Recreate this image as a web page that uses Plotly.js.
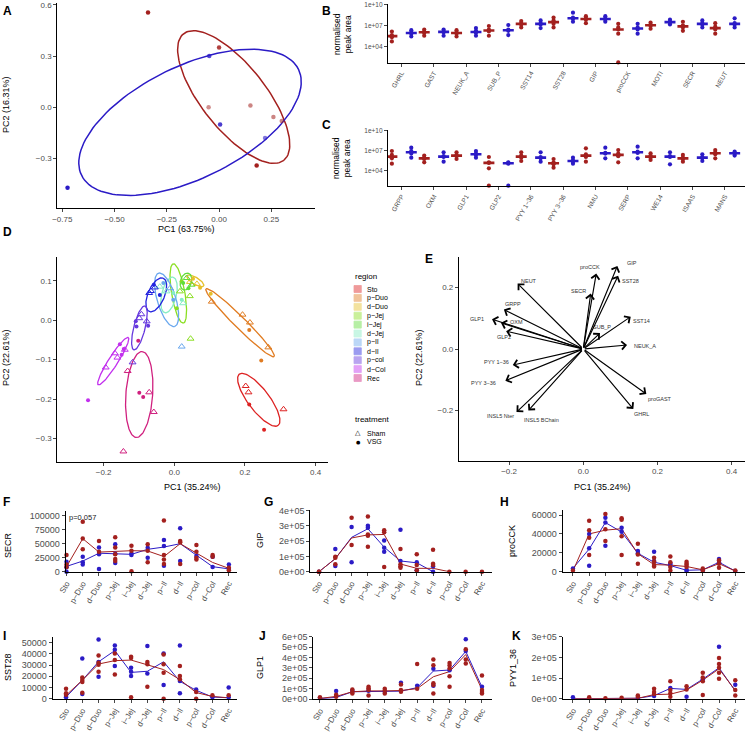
<!DOCTYPE html>
<html><head><meta charset="utf-8">
<script src="https://cdn.plot.ly/plotly-3.0.1.min.js"></script>
<style>html,body{margin:0;padding:0;background:#fff}#chart{width:745px;height:734px}</style>
</head><body><div id="chart"></div>
<script>
// ================= DATA =================
// Panel A (PCA, treatment)
const aPC1 = [-0.34, 0.0, -0.047, -0.05, 0.15, 0.005, 0.18, -0.725, 0.26, 0.30, 0.22];
const aPC2 = [0.555, 0.35, 0.30, 0.0, 0.01, -0.10, -0.34, -0.47, -0.057, -0.08, -0.18];
const aTreat = ['Sham','Sham','VSG','Sham','Sham','VSG','Sham','VSG','Sham','Sham','VSG'];
const aAlpha = [1, 0.85, 0.8, 0.5, 0.55, 0.85, 1, 1, 0.55, 0.55, 0.6];
const aEllTreat = ['Sham','VSG'];
const aEllCx = [0.07, -0.139], aEllCy = [0.06, -0.088];
const aEllUx = [0.24, 0.519], aEllUy = [-0.37, 0.31];
const aEllVx = [0.12, 0.118], aEllVy = [0.117, -0.295];

// Panel B / C (normalised peak area)
const bGenes = ['GHRL','GAST','NEUK_A','SUB_P','SST14','SST28','GIP','proCCK','MOTI','SECR','NEUT'];
const bSham = [[5.0e4,2.0e5,4.0e5,1.3e6],[3.2e5,7.9e5,1.3e6,2.5e6],[2.5e5,6.3e5,1.0e6,2.0e6],[3.2e5,1.3e6,2.5e6,7.9e6],[5.0e6,1.3e7,2.0e7,4.0e7],[5.0e6,1.6e7,5.0e7,1.3e8],[2.0e7,6.3e7,1.0e8,2.0e8],[50,6.3e5,2.5e6,5.0e6,1.6e7],[3.2e6,7.9e6,1.3e7,2.5e7],[1.6e6,5.0e6,1.0e7,3.2e7],[6.3e5,2.5e6,6.3e6,2.0e7]];
const bVsg = [[2.5e5,6.3e5,1.0e6,2.0e6],[3.2e5,1.0e6,1.3e6,2.5e6],[3.2e5,7.9e5,1.6e6,4.0e6],[4.0e5,1.6e6,2.5e6,1.1e7],[4.0e6,1.3e7,2.0e7,5.0e7],[3.2e7,7.9e7,1.3e8,6.3e8],[3.2e7,6.3e7,1.0e8,2.0e8],[6.3e5,2.5e6,5.0e6,1.6e7],[1.3e7,2.5e7,3.2e7,6.3e7],[5.0e6,1.3e7,2.0e7,5.0e7],[5.0e6,1.3e7,2.0e7,1.0e8]];
const cGenes = ['GRPP','OXM','GLP1','GLP2','PYY 1\u221236','PYY 3\u221236','NMU','SERP','WE14','ISAAS','MANS'];
const cSham = [[1.0e5,6.3e5,2.0e6,7.9e6],[1.6e5,5.0e5,7.9e5,1.6e6],[5.0e5,1.3e6,2.0e6,5.0e6],[50,2.0e4,1.3e5,1.6e5,1.0e6],[2.5e5,7.9e5,1.6e6,5.0e6],[2.5e4,7.9e4,1.6e5,5.0e5],[2.0e5,1.0e6,2.5e6,2.0e7],[1.6e5,1.3e6,3.2e6,1.1e7],[3.5e5,7.9e5,1.6e6,3.5e6],[2.0e5,5.0e5,7.9e5,2.0e6],[6.3e5,2.5e6,5.0e6,1.1e7]];
const cVsg = [[7.9e5,3.2e6,7.9e6,2.5e7],[2.0e5,1.0e6,1.3e6,5.0e6],[7.9e5,2.0e6,3.2e6,7.9e6],[50,1.0e5,1.3e5,1.6e5],[2.0e5,6.3e5,1.0e6,5.0e6],[1.0e5,2.0e5,3.2e5,7.9e5],[6.3e5,3.2e6,4.0e6,2.5e7],[6.3e5,4.0e6,6.3e6,3.5e7],[7.9e4,1.0e6,1.3e6,5.0e6],[2.5e5,6.3e5,1.0e6,2.5e6],[1.6e6,3.2e6,4.0e6,6.3e6]];

// Panel D (PCA by region)
const regions = ['Sto','p\u2212Duo','d\u2212Duo','p\u2212Jej','i\u2212Jej','d\u2212Jej','p\u2212Il','d\u2212Il','p\u2212col','d\u2212Col','Rec'];
const regionColors = ['#DD2222','#E07C22','#E6C02A','#8BDF22','#5FDD3A','#86EDC4','#6AA8EE','#2424DF','#6638DE','#C230EE','#D0207F'];
const dReg = [0,0,0,0,0, 1,1,1,1,1,1, 2,2,2,2,2, 3,3,3,3,3, 4,4,4,4, 5,5,5,5,5, 6,6,6,6, 7,7,7,7,7, 8,8,8,8,8,8,8, 9,9,9,9,9,9,9,9, 10,10,10,10,10,10,10];
const dTreat = ['S','S','S','V','V', 'S','S','S','S','V','V', 'V','S','S','V','V', 'S','S','S','V','V', 'S','S','V','V', 'S','S','V','V','S', 'S','S','V','V', 'S','S','V','S','V', 'S','S','S','V','V','V','S', 'S','S','S','S','V','V','V','V', 'S','S','S','S','V','V','V'];
const dPC1 = [0.202,0.210,0.309,0.212,0.254, 0.106,0.193,0.214,0.266,0.212,0.246, 0.103,0.044,0.064,0.053,0.073, 0.044,0.046,0.016,0.021,0.007, 0.035,0.049,0.040,0.025, -0.041,-0.022,-0.003,0.021,0.025, 0.021,-0.012,-0.003,-0.031, -0.071,-0.055,-0.058,-0.066,-0.041, -0.093,-0.078,-0.099,-0.107,-0.074,-0.109,-0.118, -0.194,-0.161,-0.140,-0.168,-0.154,-0.149,-0.143,-0.244, -0.132,-0.071,-0.058,-0.144,-0.099,-0.088,-0.102];
const dPC2 = [-0.167,-0.183,-0.226,-0.214,-0.278, 0.047,0.014,-0.006,-0.069,-0.025,-0.102, 0.067,0.097,0.092,0.105,0.082, 0.061,-0.047,0.073,0.098,0.030, 0.107,0.090,0.081,0.094, 0.085,0.073,0.069,0.052,0.043, -0.067,0.081,0.052,0.094, 0.069,0.083,0.090,0.074,0.064, 0.015,-0.003,0.005,-0.016,-0.014,-0.003,-0.107, -0.120,-0.095,-0.075,-0.084,-0.061,-0.088,-0.073,-0.203, -0.129,-0.183,-0.233,-0.333,-0.184,-0.195,-0.052];
const dEllCx = [0.239,0.186,0.0595,0.0113,0.033,-0.015,-0.0217,-0.051,-0.0987,-0.1728,-0.0992];
const dEllCy = [-0.202,-0.0063,0.0998,0.0677,0.098,0.064,0.0516,0.0643,-0.0195,-0.104,-0.1887];
const dEllUx = [0.0548,0.0963,0.0236,0.0142,0.0066,0.012,0.0227,0.0198,0.0156,0.0425,0.0085];
const dEllUy = [-0.0651,-0.0859,-0.0127,-0.0753,0.0212,0.045,-0.0677,0.0423,0.0558,0.0601,0.109];
const dEllVx = [0.0242,0.0113,-0.005,0.0186,0.0151,0.02,0.0253,0.0217,0.0156,0.0112,0.0378];
const dEllVy = [0.0162,0.0102,-0.0074,0.0028,-0.0038,-0.005,0.0068,-0.0082,-0.0035,-0.0063,-0.0025];

// Panel E (loadings)
const eLabels = ['NEUT','GRPP','GLP1','OXM','GLP2','PYY 1\u221236','PYY 3\u221236','INSL5 Nter','INSL5 BChain','GHRL','proGAST','NEUK_A','SST14','SUB_P','SECR','proCCK','GIP','SST28'];
const eTipX = [-0.177,-0.214,-0.246,-0.222,-0.208,-0.19,-0.21,-0.18,-0.148,0.135,0.17,0.118,0.128,0.045,0.02,0.035,0.092,0.094];
const eTipY = [0.213,0.128,0.097,0.085,0.058,-0.052,-0.103,-0.205,-0.2,-0.195,-0.146,0.013,0.105,0.052,0.18,0.245,0.27,0.238];
const eLabX = [-0.145,-0.19,-0.287,-0.18,-0.215,-0.235,-0.268,-0.222,-0.112,0.156,0.207,0.167,0.157,0.05,-0.012,0.018,0.131,0.126];
const eLabY = [0.222,0.145,0.097,0.087,0.038,-0.042,-0.112,-0.219,-0.232,-0.212,-0.162,0.01,0.09,0.07,0.188,0.266,0.278,0.221];

// Panels F-K (per region)
const secrSham = [[29800,8300,13000],[89000,59500,40000],[54700,35700],[61300,43400,31000,22600,19000],[46400,37500,600],[48800,37500,16700],[91600,29800,22000,13700],[54700,52400,13700],[47600,35700,25000,22000],[29800,26800],[7000,2400]];
const secrVsg = [[17900,0,8000],[26800,16700,13000],[43400,31000,4800],[48800,15500,32000],[32700,29800],[42800,25000],[56500,45800,10700],[77400,19000],[28000],[26800,8300],[13000,4800]];
const secrShamLine = [9000,59000,35000,36000,37500,37000,27000,50000,33000,16500,6000];
const secrVsgLine = [9500,19000,33000,32500,31000,40000,44000,50000,30000,9000,5000];

const gipSham = [[0,0],[98000,91000,48000],[352000,174000],[360000,243000,235000,163000],[270000,257000,30000],[148000,48000,35000,26000],[113000,43000,9000],[143000,52000,43000],[0],[0],[0]];
const gipVsg = [[0],[148000,37000],[291000,61000],[300000,287000],[204000,157000,130000],[274000,70000],[61000,9000],[35000,0],[],[],[]];
const gipShamLine = [0,85000,220000,240000,243000,50000,22000,22000,0,null,null];
const gipVsgLine = [0,85000,224000,280000,160000,70000,58000,0,null,null,null];

const cckSham = [[1400],[54000,44000,36000,17600],[61000,45000,32500],[56500,55000,37400,17600],[29600,18300,8500],[14800,10600,7000,5600],[16200,9900,4900,1400],[10600,8500,7000,4900],[3500,1400],[12000,8500,4200],[1400]];
const cckVsg = [[3500],[40000,24700,6400],[57000,52000,27500],[46600,42400],[21900,19400],[21200,11300],[8800,7000],[700,2100],[1400],[13400,9900],[700]];
const cckShamLine = [700,40000,44000,45500,19000,7500,7000,5500,2000,8500,700];
const cckVsgLine = [3500,24000,52000,42000,19500,10000,6500,1500,2000,10000,700];

const sst28Sham = [[8900,4800,3600],[19000,16700,14900,5400],[38700,32100,30400,24100],[40500,34500,21700],[37500,36300,1200],[32700,30700,10700],[39600,30700,23200,0],[29200,20200,17300],[6000,0],[3000],[3000]];
const sst28Vsg = [[2400,1200],[36000,4200],[53000,32700,19600],[47600,43700,29200],[27700,24100,20200],[47000,22600],[40500,12200],[47600,15800,4800],[8300],[1200],[10100,1200]];
const sst28ShamLine = [3000,16500,31000,34000,34500,30000,26000,17000,5500,2000,800];
const sst28VsgLine = [1500,16500,33000,43000,23500,24500,33000,15500,7500,1500,800];

const glp1Sham = [[16000],[42000,22000],[93000,67000,54000],[119000,103000,87000,35000],[99000,80000,54000],[141000,87000,70000],[337000,99000],[381000,327000,151000,135000,54000],[349000,324000,295000,221000,119000],[480000,381000,343000],[228000,87000,67000,54000]];
const glp1Vsg = [[10000],[77000,29000],[80000],[80000],[70000],[157000],[128000],[292000,128000],[279000],[577000,465000],[119000]];
const glp1ShamLine = [5000,25000,70000,78000,78000,82000,100000,215000,265000,430000,90000];
const glp1VsgLine = [5000,15000,70000,72000,72000,76000,110000,270000,280000,460000,115000];

const pyySham = [[],[6500],[2000],[5000],[16000,10000],[48000,32000,23000],[85000,42000,26000,10000],[61000,45000],[126000,103000,85000,18000],[197000,168000,150000,126000,97000],[90000,42000,16000]];
const pyyVsg = [[6500],[],[],[],[3000],[13000],[52000],[10000],[94000],[252000],[68000]];
const pyyShamLine = [0,0,0,0,2000,20000,22000,42000,90000,145000,40000];
const pyyVsgLine = [0,0,0,0,2000,15000,50000,45000,95000,150000,38000];

// ================= DRAWING =================
const W = 745, H = 734;
const FONT = '"Liberation Sans", Arial, Helvetica, sans-serif';
const RED = '#A3201E', BLUE = '#2B1BC6', TICKC = '#4D4D4D';
const treatColor = {Sham: RED, VSG: BLUE};
const px = x => x / W, py = y => 1 - y / H;
const traces = [], annotations = [], shapes = [];
const layout = {width: W, height: H, margin: {l:0, r:0, t:0, b:0, pad:0}, showlegend: false,
  paper_bgcolor: '#ffffff', plot_bgcolor: 'rgba(0,0,0,0)', font: {family: FONT, color: '#000'},
  annotations, shapes};

function addAxes(n, x0, x1, ytop, ybot, xr, yr, xopt, yopt) {
  const sfx = n === 1 ? '' : String(n);
  const base = {showline: true, linecolor: '#000', linewidth: 1.1, ticks: 'outside', ticklen: 3,
    tickwidth: 0.9, tickcolor: '#333', showgrid: false, zeroline: false, fixedrange: true,
    tickfont: {family: FONT, size: 8, color: TICKC}};
  layout['xaxis' + sfx] = Object.assign({}, base, {domain: [px(x0), px(x1)], range: xr, anchor: 'y' + sfx}, xopt || {});
  layout['yaxis' + sfx] = Object.assign({}, base, {domain: [py(ybot), py(ytop)], range: yr, anchor: 'x' + sfx}, yopt || {});
  return {xa: 'x' + sfx, ya: 'y' + sfx};
}
function txt(x, y, text, opt) {
  annotations.push(Object.assign({xref: 'paper', yref: 'paper', x: px(x), y: py(y), text: text, showarrow: false,
    xanchor: 'center', yanchor: 'middle', font: {family: FONT, size: 9, color: '#000'}}, opt || {}));
}
function letter(x, y, L) { txt(x, y, '<b>' + L + '</b>', {xanchor: 'left', font: {family: FONT, size: 12, color: '#000'}}); }
function ytitle(x, y, t, size) { txt(x, y, t, {textangle: -90, font: {family: FONT, size: size || 9, color: '#000'}}); }
function ellipse(cx, cy, ux, uy, vx, vy) {
  const xs = [], ys = [];
  for (let k = 0; k <= 120; k++) { const t = 2 * Math.PI * k / 120;
    xs.push(cx + ux * Math.cos(t) + vx * Math.sin(t)); ys.push(cy + uy * Math.cos(t) + vy * Math.sin(t)); }
  return {xs, ys};
}
const idx11 = [0,1,2,3,4,5,6,7,8,9,10];

// ---- Panel A ----
const A = addAxes(1, 57.3, 315, 3, 208, [-0.774, 0.459], [-0.589, 0.61],
  {tickvals: [-0.75, -0.5, -0.25, 0, 0.25], tickformat: '.2f'}, {tickvals: [-0.3, 0, 0.3, 0.6], tickformat: '.1f'});
aEllTreat.forEach((t, i) => {
  const e = ellipse(aEllCx[i], aEllCy[i], aEllUx[i], aEllUy[i], aEllVx[i], aEllVy[i]);
  traces.push({type: 'scatter', mode: 'lines', x: e.xs, y: e.ys, xaxis: A.xa, yaxis: A.ya, line: {color: treatColor[t], width: 1.5}, hoverinfo: 'skip'});
});
traces.push({type: 'scatter', mode: 'markers', x: aPC1, y: aPC2, xaxis: A.xa, yaxis: A.ya, cliponaxis: false,
  marker: {size: 4.5, color: aTreat.map(t => treatColor[t]), opacity: aAlpha}});
letter(1, 11, 'A');
txt(186, 229, 'PC1 (63.75%)');
ytitle(6, 105, 'PC2 (16.31%)');

// ---- Panels B & C ----
function medianLog(vals) { const l = vals.map(v => Math.log10(v)).sort((a, b) => a - b); const m = l.length;
  return Math.pow(10, m % 2 ? l[(m - 1) / 2] : (l[m / 2 - 1] + l[m / 2]) / 2); }
function dotCross(ax, groups, off, color) {
  const xs = [], ys = [], lx = [], ly = [];
  groups.forEach((vals, i) => {
    vals.forEach(v => { xs.push(i + off); ys.push(v); });
    const m = medianLog(vals);
    lx.push(i + off - 0.17, i + off + 0.17, null); ly.push(m, m, null);
  });
  traces.push({type: 'scatter', mode: 'lines', x: lx, y: ly, xaxis: ax.xa, yaxis: ax.ya, line: {color: color, width: 2.6}, hoverinfo: 'skip'});
  traces.push({type: 'scatter', mode: 'markers', x: xs, y: ys, xaxis: ax.xa, yaxis: ax.ya, cliponaxis: false, marker: {size: 4.2, color: color}});
}
const geneTick = labels => ({tickvals: idx11, ticktext: labels, tickangle: -60, tickfont: {family: FONT, size: 6.5, color: TICKC}});
const logY = {type: 'log', tickvals: [1e4, 1e7, 1e10], ticktext: ['1e+04', '1e+07', '1e+10'], tickfont: {family: FONT, size: 6.5, color: TICKC}};
const B = addAxes(2, 388, 745, 4, 62.7, [-0.42, 10.62], [1.66, 10.04], geneTick(bGenes), logY);
dotCross(B, bSham, -0.3, RED); dotCross(B, bVsg, 0.3, BLUE);
const C = addAxes(3, 388, 745, 130.3, 186, [-0.42, 10.62], [1.65, 10.0], geneTick(cGenes), logY);
dotCross(C, cSham, -0.3, RED); dotCross(C, cVsg, 0.3, BLUE);
letter(320, 11, 'B'); letter(320, 125, 'C');
ytitle(342, 34, 'normalised<br>peak area', 8.5);
ytitle(342, 158, 'normalised<br>peak area', 8.5);

// ---- Panel D ----
const D = addAxes(4, 57.3, 327.7, 256.7, 461.7, [-0.331, 0.434], [-0.359, 0.161],
  {tickvals: [-0.2, 0, 0.2, 0.4], tickformat: '.1f'}, {tickvals: [-0.3, -0.2, -0.1, 0, 0.1], tickformat: '.1f'});
regions.forEach((r, ri) => {
  const e = ellipse(dEllCx[ri], dEllCy[ri], dEllUx[ri], dEllUy[ri], dEllVx[ri], dEllVy[ri]);
  traces.push({type: 'scatter', mode: 'lines', x: e.xs, y: e.ys, xaxis: D.xa, yaxis: D.ya, line: {color: regionColors[ri], width: 1.3}, hoverinfo: 'skip'});
});
regions.forEach((r, ri) => {
  const sx = [], sy = [], vx = [], vy = [];
  dReg.forEach((g, k) => { if (g !== ri) return; if (dTreat[k] === 'S') { sx.push(dPC1[k]); sy.push(dPC2[k]); } else { vx.push(dPC1[k]); vy.push(dPC2[k]); } });
  traces.push({type: 'scatter', mode: 'markers', x: sx, y: sy, xaxis: D.xa, yaxis: D.ya, marker: {symbol: 'triangle-up-open', size: 6, color: regionColors[ri], line: {width: 1, color: regionColors[ri]}}});
  traces.push({type: 'scatter', mode: 'markers', x: vx, y: vy, xaxis: D.xa, yaxis: D.ya, marker: {symbol: 'circle', size: 4, color: regionColors[ri]}});
});
letter(1, 232, 'D');
txt(192, 487, 'PC1 (35.24%)');
ytitle(6, 358, 'PC2 (22.61%)');
// legend (drawn manually)
txt(353, 276.5, 'region', {xanchor: 'left', font: {family: FONT, size: 8, color: '#000'}});
regions.forEach((r, ri) => {
  const yc = 289 + 8.9 * ri;
  shapes.push({type: 'rect', xref: 'paper', yref: 'paper', x0: px(354), x1: px(361.3), y0: py(yc + 3.5), y1: py(yc - 3.5),
    line: {color: regionColors[ri], width: 0.8}, fillcolor: regionColors[ri], opacity: 0.45});
  txt(365, yc, r, {xanchor: 'left', font: {family: FONT, size: 7, color: '#000'}});
});
txt(353, 419.5, 'treatment', {xanchor: 'left', font: {family: FONT, size: 8, color: '#000'}});
txt(358, 433.3, '\u25B3', {font: {family: 'DejaVu Sans', size: 7, color: '#000'}});
txt(358, 441.7, '\u25CF', {font: {family: 'DejaVu Sans', size: 5, color: '#000'}});
txt(365, 433.3, 'Sham', {xanchor: 'left', font: {family: FONT, size: 7, color: '#000'}});
txt(365, 441.7, 'VSG', {xanchor: 'left', font: {family: FONT, size: 7, color: '#000'}});

// ---- Panel E ----
const E = addAxes(5, 459, 745, 256.7, 460.7, [-0.335, 0.436], [-0.363, 0.30],
  {tickvals: [-0.2, 0, 0.2, 0.4], tickformat: '.1f'}, {tickvals: [-0.2, 0, 0.2], tickformat: '.1f'});
traces.push({type: 'scatter', mode: 'markers', x: [0], y: [0], xaxis: E.xa, yaxis: E.ya, marker: {size: 1, color: 'rgba(0,0,0,0)'}, hoverinfo: 'skip'});
eLabels.forEach((lab, i) => {
  annotations.push({xref: E.xa, yref: E.ya, axref: E.xa, ayref: E.ya, x: eTipX[i], y: eTipY[i], ax: 0, ay: 0,
    text: '', showarrow: true, arrowhead: 4, arrowsize: 1.4, arrowwidth: 1.15, arrowcolor: '#000', standoff: 0, startstandoff: 0});
  annotations.push({xref: E.xa, yref: E.ya, x: eLabX[i], y: eLabY[i], text: lab, showarrow: false,
    xanchor: 'center', yanchor: 'middle', font: {family: FONT, size: 5.5, color: '#333'}});
});
letter(423, 259, 'E');
txt(602, 487, 'PC1 (35.24%)');
ytitle(419, 358, 'PC2 (22.61%)');

// ---- Panels F-K ----
const catX = {tickvals: idx11, ticktext: regions, tickangle: -60, tickfont: {family: FONT, size: 8, color: TICKC}};
const yTf = (vals, labels) => ({tickvals: vals, ticktext: labels, tickfont: {family: FONT, size: 9, color: TICKC}});
function linePanel(ax, shamPts, vsgPts, shamLine, vsgLine) {
  traces.push({type: 'scatter', mode: 'lines', x: idx11, y: vsgLine, xaxis: ax.xa, yaxis: ax.ya, line: {color: BLUE, width: 1}, connectgaps: false, cliponaxis: false, hoverinfo: 'skip'});
  traces.push({type: 'scatter', mode: 'lines', x: idx11, y: shamLine, xaxis: ax.xa, yaxis: ax.ya, line: {color: RED, width: 1}, connectgaps: false, cliponaxis: false, hoverinfo: 'skip'});
  [[vsgPts, BLUE], [shamPts, RED]].forEach(([pts, col]) => {
    const xs = [], ys = [];
    pts.forEach((arr, i) => arr.forEach(v => { xs.push(i); ys.push(v); }));
    traces.push({type: 'scatter', mode: 'markers', x: xs, y: ys, xaxis: ax.xa, yaxis: ax.ya, cliponaxis: false, marker: {size: 4.5, color: col}});
  });
}
const F = addAxes(6, 65.7, 237, 511, 571.7, [-0.05, 10.5], [0, 108400], catX,
  yTf([0, 25000, 50000, 75000, 100000], ['0', '25000', '50000', '75000', '100000']));
linePanel(F, secrSham, secrVsg, secrShamLine, secrVsgLine);
annotations.push({xref: F.xa, yref: F.ya, x: 1.0, y: 96500, text: 'p=0.057', showarrow: false, font: {family: FONT, size: 7.5, color: '#222'}});
const G = addAxes(7, 310.3, 491.7, 510.3, 571.7, [-0.535, 10.6], [0, 400450], catX,
  yTf([0, 1e5, 2e5, 3e5, 4e5], ['0e+00', '1e+05', '2e+05', '3e+05', '4e+05']));
linePanel(G, gipSham, gipVsg, gipShamLine, gipVsgLine);
const Hh = addAxes(8, 562.7, 745, 510, 571.7, [-0.63, 10.6], [0, 65300], catX,
  yTf([0, 20000, 40000, 60000], ['0', '20000', '40000', '60000']));
linePanel(Hh, cckSham, cckVsg, cckShamLine, cckVsgLine);
const I = addAxes(9, 52.7, 237.3, 636.7, 698.7, [-0.82, 10.53], [0, 55400], catX,
  yTf([0, 10000, 20000, 30000, 40000, 50000], ['0', '10000', '20000', '30000', '40000', '50000']));
linePanel(I, sst28Sham, sst28Vsg, sst28ShamLine, sst28VsgLine);
const J = addAxes(10, 313.3, 491.7, 636.7, 699, [-0.41, 10.6], [0, 6.02e5], catX,
  yTf([0, 1e5, 2e5, 3e5, 4e5, 5e5, 6e5], ['0e+00', '1e+05', '2e+05', '3e+05', '4e+05', '5e+05', '6e+05']));
linePanel(J, glp1Sham, glp1Vsg, glp1ShamLine, glp1VsgLine);
const K = addAxes(11, 562.7, 745, 636.7, 698.7, [-0.63, 10.6], [0, 3.01e5], catX,
  yTf([0, 1e5, 2e5, 3e5], ['0e+00', '1e+05', '2e+05', '3e+05']));
linePanel(K, pyySham, pyyVsg, pyyShamLine, pyyVsgLine);

letter(1, 502, 'F'); letter(262, 502, 'G'); letter(498, 502, 'H');
letter(1, 636, 'I'); letter(257, 636, 'J'); letter(510, 636, 'K');
ytitle(8, 545, 'SECR'); ytitle(260, 540, 'GIP'); ytitle(512, 541, 'proCCK');
ytitle(8, 667, 'SST28'); ytitle(260, 668, 'GLP1'); ytitle(513, 668, 'PYY1_36');

Plotly.newPlot('chart', traces, layout, {displayModeBar: false, staticPlot: true});
</script></body></html>
